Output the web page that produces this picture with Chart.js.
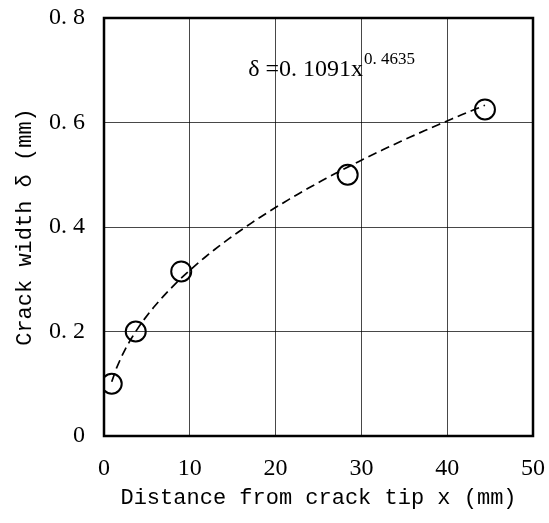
<!DOCTYPE html>
<html>
<head>
<meta charset="utf-8">
<title>Crack width vs distance from crack tip</title>
<script src="https://cdn.jsdelivr.net/npm/chart.js@4/dist/chart.umd.min.js"></script>
<style>
  html, body { margin: 0; padding: 0; background: #ffffff; }
  #wrap { width: 549px; height: 523px; }
</style>
</head>
<body>
<div id="wrap"><canvas id="c" width="549" height="523"></canvas></div>
<script>
// Measured crack widths along the crack
const distances = [0.9, 3.7, 9.0, 28.4, 44.4];      // x (mm)
const crackWidths = [0.10, 0.20, 0.315, 0.50, 0.625]; // delta (mm)

// Power-law fit printed on the chart: delta = a * x^b
const fitCoef = 0.1091;
const fitExp = 0.4635;
const fitCoefLabel = '0. 1091';
const fitExpLabel = '0. 4635';

// Axis tick labels
const xTickValues = [0, 10, 20, 30, 40, 50];
const xTickLabels = ['0', '10', '20', '30', '40', '50'];
const yTickValues = [0, 0.2, 0.4, 0.6, 0.8];
const yTickLabels = ['0', '0. 2', '0. 4', '0. 6', '0. 8'];

// Fitted curve evaluated across the measured range
const fitSteps = 80;
const xStart = distances[0];
const xEnd = distances[distances.length - 1];
const fitCurve = [];
for (let i = 0; i <= fitSteps; i++) {
  const x = xStart + (xEnd - xStart) * i / fitSteps;
  fitCurve.push({ x: x, y: fitCoef * Math.pow(x, fitExp) });
}

const measured = distances.map((x, i) => ({ x: x, y: crackWidths[i] }));

// Frame around the plot area
const framePlugin = {
  id: 'frame',
  beforeDatasetsDraw(chart) {
    const { ctx, chartArea: a } = chart;
    ctx.save();
    ctx.strokeStyle = '#000';
    ctx.lineWidth = 2.5;
    ctx.strokeRect(a.left, a.top, a.right - a.left, a.bottom - a.top);
    ctx.restore();
  }
};

// Fit equation text with superscript exponent
const equationPlugin = {
  id: 'equation',
  afterDatasetsDraw(chart) {
    const { ctx, scales } = chart;
    const x0 = scales.x.getPixelForValue(16.8);
    const y0 = scales.y.getPixelForValue(0.689);
    ctx.save();
    ctx.fillStyle = '#000';
    ctx.textBaseline = 'alphabetic';
    ctx.textAlign = 'left';
    ctx.font = '24px "Liberation Serif"';
    const main = '\u03b4 =' + fitCoefLabel + 'x';
    ctx.fillText(main, x0, y0);
    const w = ctx.measureText(main).width;
    ctx.font = '17px "Liberation Serif"';
    ctx.fillText(fitExpLabel, x0 + w + 1, y0 - 12);
    ctx.restore();
  }
};

new Chart(document.getElementById('c'), {
  type: 'scatter',
  data: {
    datasets: [
      {
        type: 'line',
        data: fitCurve,
        borderColor: '#000',
        borderWidth: 1.7,
        borderDash: [9, 5],
        pointRadius: 0,
        fill: false,
        tension: 0,
        order: 2
      },
      {
        type: 'scatter',
        data: measured,
        pointStyle: 'circle',
        pointRadius: 10,
        borderWidth: 2,
        borderColor: '#000',
        backgroundColor: 'rgba(0,0,0,0)',
        order: 1
      }
    ]
  },
  options: {
    responsive: false,
    animation: false,
    devicePixelRatio: 1,
    layout: { padding: { left: 0, top: 18, right: 16, bottom: 0 } },
    plugins: {
      legend: { display: false },
      tooltip: { enabled: false }
    },
    scales: {
      x: {
        type: 'linear',
        min: 0,
        max: 50,
        afterBuildTicks(scale) { scale.ticks = xTickValues.map(v => ({ value: v })); },
        afterFit(scale) {
          scale.height = 87;
          scale.paddingLeft = 0;
          scale.paddingRight = 0;
        },
        border: { display: false },
        grid: { color: 'rgba(0,0,0,0.72)', lineWidth: 1, drawTicks: false },
        ticks: {
          padding: 18,
          color: '#000',
          font: { family: 'Liberation Serif', size: 24 },
          callback: (v) => xTickLabels[xTickValues.indexOf(v)]
        },
        title: {
          display: true,
          text: 'Distance from crack tip x (mm)',
          color: '#000',
          font: { family: 'Liberation Mono', size: 22 },
          padding: { top: 0, bottom: 12 }
        }
      },
      y: {
        type: 'linear',
        min: 0,
        max: 0.8,
        afterBuildTicks(scale) { scale.ticks = yTickValues.map(v => ({ value: v })); },
        afterFit(scale) {
          scale.width = 104;
          scale.paddingTop = 0;
          scale.paddingBottom = 0;
        },
        border: { display: false },
        grid: { color: 'rgba(0,0,0,0.72)', lineWidth: 1, drawTicks: false },
        ticks: {
          padding: 19,
          color: '#000',
          font: { family: 'Liberation Serif', size: 24 },
          callback: (v) => {
            const i = yTickValues.findIndex(t => Math.abs(t - v) < 1e-9);
            return i >= 0 ? yTickLabels[i] : '';
          }
        },
        title: {
          display: true,
          text: 'Crack width \u03b4 (mm)',
          color: '#000',
          font: { family: 'Liberation Mono', size: 22 },
          padding: { top: 12, bottom: 0 }
        }
      }
    }
  },
  plugins: [framePlugin, equationPlugin]
});
</script>
</body>
</html>
